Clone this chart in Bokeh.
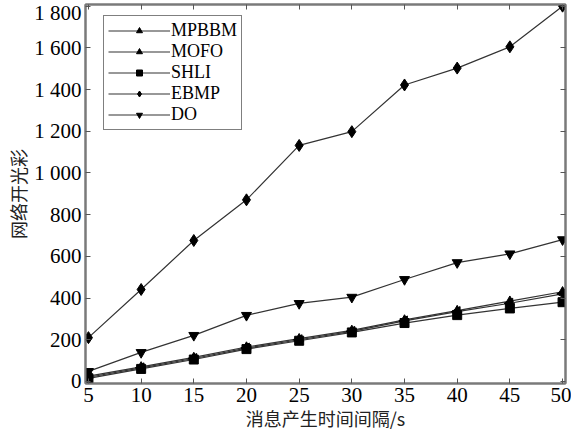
import math
from bokeh.plotting import figure
from bokeh.models import (LinearAxis, Legend, LegendItem, FixedTicker, Range1d,
                          CustomJSTickFormatter, ColumnDataSource)
from bokeh.embed import file_html
from bokeh.resources import INLINE

x = [5, 10, 15, 20, 25, 30, 35, 40, 45, 50]
mpbbm = [25, 70, 115, 165, 205, 245, 295, 340, 385, 430]
mofo = [20, 65, 110, 160, 200, 240, 290, 335, 375, 420]
shli = [15, 60, 105, 155, 195, 235, 280, 318, 350, 380]
ebmp = [210, 441, 676, 871, 1132, 1198, 1422, 1503, 1605, 1800]
do = [48, 139, 221, 317, 374, 404, 489, 570, 612, 680]

y_ticks = [0, 200, 400, 600, 800, 1000, 1200, 1400, 1600, 1800]
x_ticks = [5, 10, 15, 20, 25, 30, 35, 40, 45, 50]
y_labels = {v: (f"{v // 1000} {v % 1000:03d}" if v >= 1000 else str(v)) for v in y_ticks}

FONT = "Liberation Serif"
CJK = "Noto Sans CJK SC"

p = figure(width=571, height=437, output_backend="svg", toolbar_location=None,
           x_range=Range1d(4.72, 50.28), y_range=Range1d(-10, 1808))
p.min_border_left = 85
p.min_border_right = 6
p.min_border_top = 4
p.min_border_bottom = 54
p.background_fill_color = "white"
p.border_fill_color = "white"
p.outline_line_color = "#7a7a7a"
p.outline_line_width = 2
p.xgrid.visible = False
p.ygrid.visible = False

for ax in (p.xaxis[0], p.yaxis[0]):
    ax.major_tick_in = 5
    ax.major_tick_out = 0
    ax.minor_tick_in = 0
    ax.minor_tick_out = 0
    ax.axis_line_color = "#7a7a7a"
    ax.axis_line_width = 2
    ax.major_tick_line_color = "#555555"
    ax.major_label_text_font = FONT
    ax.major_label_text_font_size = "21px"
    ax.major_label_text_color = "black"
    ax.axis_label_text_font = CJK
    ax.axis_label_text_font_size = "18px"
    ax.axis_label_text_font_style = "normal"
    ax.axis_label_text_color = "#222222"

p.xaxis[0].ticker = FixedTicker(ticks=x_ticks)
p.yaxis[0].ticker = FixedTicker(ticks=y_ticks)
p.yaxis[0].major_label_overrides = y_labels
p.xaxis[0].axis_label = "消息产生时间间隔/s"
p.yaxis[0].axis_label = "网络开光彩"
p.xaxis[0].major_label_standoff = 4
p.yaxis[0].major_label_standoff = 4
p.xaxis[0].axis_label_standoff = 0
p.yaxis[0].axis_label_standoff = 0

blank = CustomJSTickFormatter(code="return ''")
for loc, tick in (("right", y_ticks), ("above", x_ticks)):
    ax = LinearAxis(ticker=FixedTicker(ticks=tick), formatter=blank,
                    major_tick_in=5, major_tick_out=0, minor_tick_in=0, minor_tick_out=0,
                    axis_line_color="#7a7a7a", axis_line_width=2,
                    major_tick_line_color="#555555", major_label_standoff=0)
    p.add_layout(ax, loc)

series = [
    ("MPBBM", mpbbm, "triangle", 0.0, 9),
    ("MOFO", mofo, "triangle", math.pi / 2, 10),
    ("SHLI", shli, "square", 0.0, 9),
    ("EBMP", ebmp, "diamond", 0.0, 12),
    ("DO", do, "inverted_triangle", 0.0, 10),
]
items = []
for name, ys, marker, ang, sz in series:
    src = ColumnDataSource(dict(x=x, y=ys, a=[ang] * len(x)))
    l = p.line("x", "y", source=src, line_color="#333333", line_width=1.2)
    s = p.scatter("x", "y", source=src, marker=marker, angle="a", size=sz,
                  fill_color="black", line_color="black")
    items.append(LegendItem(label=name, renderers=[l, s], index=0))

legend = Legend(items=items, location=(18, 253))
legend.label_text_font = FONT
legend.label_text_font_size = "18px"
legend.label_text_line_height = 1.0
legend.label_text_color = "black"
legend.glyph_width = 62
legend.glyph_height = 15
legend.label_height = 15
legend.label_standoff = 1
legend.spacing = 0
legend.padding = 4
legend.margin = 0
legend.border_line_color = "black"
legend.border_line_width = 1
legend.background_fill_color = "white"
p.add_layout(legend, "center")

open("out.html", "w").write(file_html(p, INLINE))
